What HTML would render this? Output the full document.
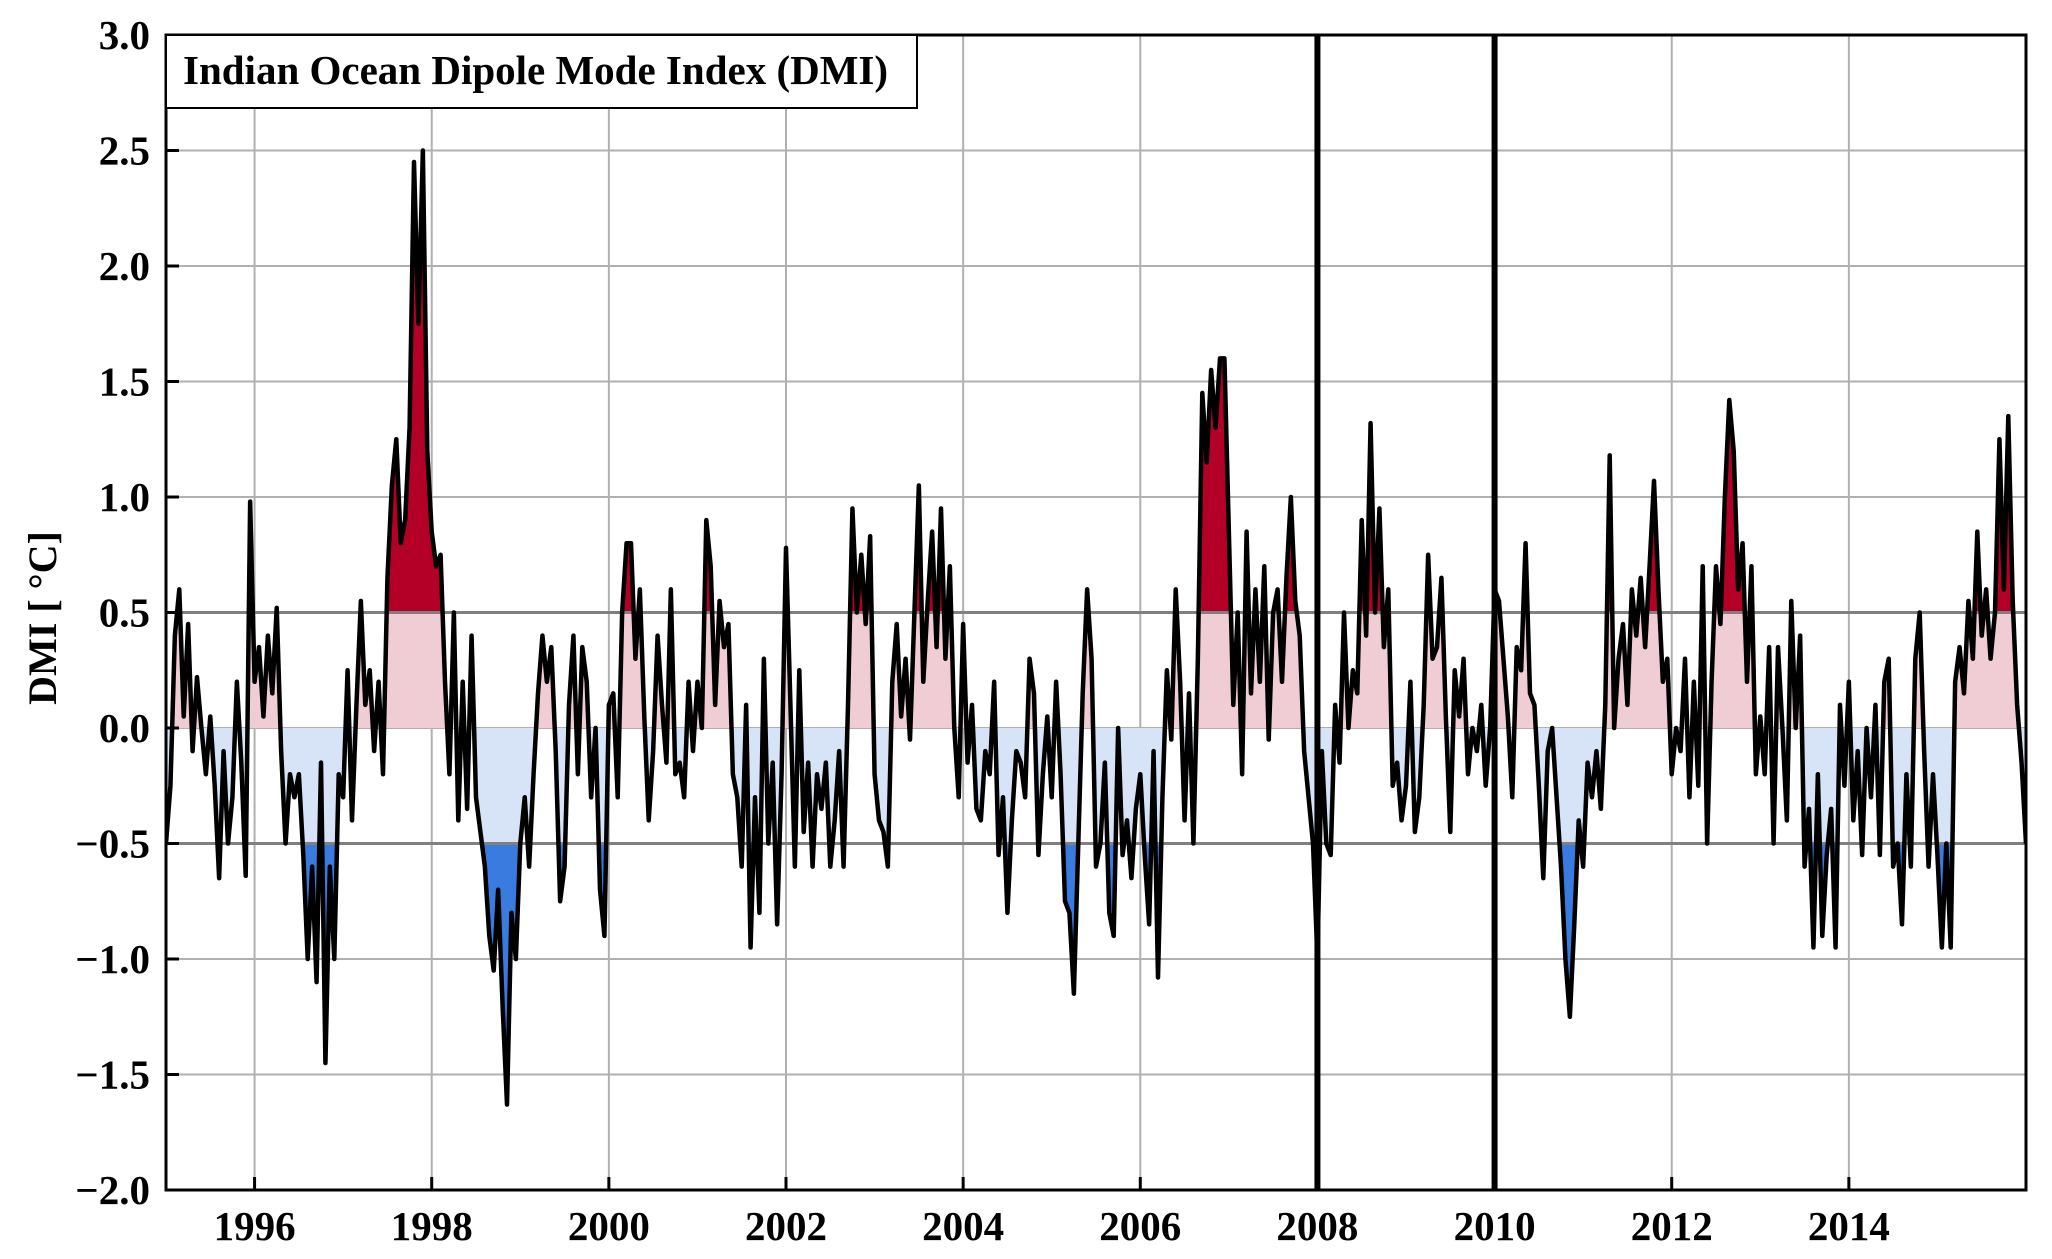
<!DOCTYPE html>
<html><head><meta charset="utf-8">
<style>
html,body{margin:0;padding:0;background:#fff;}
svg{display:block;font-family:"Liberation Serif",serif;font-weight:bold;}
</style></head>
<body>
<svg id="chart" width="2052" height="1259" viewBox="0 0 2052 1259" xmlns="http://www.w3.org/2000/svg">
<defs>
<clipPath id="cRed"><rect id="rRed"/></clipPath>
<clipPath id="cPink"><rect id="rPink"/></clipPath>
<clipPath id="cLBlue"><rect id="rLBlue"/></clipPath>
<clipPath id="cBlue"><rect id="rBlue"/></clipPath>
<clipPath id="cPlot"><rect id="rPlot"/></clipPath>
</defs>
<g id="grid"></g>
<g id="fills"></g>
<g id="refs"></g>
<g id="series"></g>
<g id="axes"></g>
</svg>
<script>
const startYear = 1995.0;
const stepYear = 0.05;
const dmiValues = [
-0.5,-0.25,0.4,0.6,0.05,0.45,-0.1,0.22,0.0,-0.2,0.05,-0.25,-0.65,-0.1,-0.5,-0.3,0.2,-0.15,-0.64,0.98,
0.2,0.35,0.05,0.4,0.15,0.52,-0.1,-0.5,-0.2,-0.3,-0.2,-0.55,-1.0,-0.6,-1.1,-0.15,-1.45,-0.6,-1.0,-0.2,
-0.3,0.25,-0.4,0.1,0.55,0.1,0.25,-0.1,0.2,-0.2,0.65,1.05,1.25,0.8,0.9,1.3,2.45,1.75,2.5,1.2,
0.85,0.7,0.75,0.2,-0.2,0.5,-0.4,0.2,-0.35,0.4,-0.3,-0.45,-0.6,-0.9,-1.05,-0.7,-1.2,-1.63,-0.8,-1.0,
-0.5,-0.3,-0.6,-0.2,0.15,0.4,0.2,0.35,-0.1,-0.75,-0.6,0.1,0.4,-0.2,0.35,0.2,-0.3,0.0,-0.7,-0.9,
0.1,0.15,-0.3,0.5,0.8,0.8,0.3,0.6,0.05,-0.4,-0.1,0.4,0.1,-0.15,0.6,-0.2,-0.15,-0.3,0.2,-0.1,
0.2,0.0,0.9,0.7,0.1,0.55,0.35,0.45,-0.2,-0.3,-0.6,0.1,-0.95,-0.3,-0.8,0.3,-0.5,-0.15,-0.85,-0.2,
0.78,0.1,-0.6,0.25,-0.45,-0.15,-0.6,-0.2,-0.35,-0.15,-0.6,-0.4,-0.1,-0.6,0.1,0.95,0.5,0.75,0.45,0.83,
-0.2,-0.4,-0.45,-0.6,0.2,0.45,0.05,0.3,-0.05,0.5,1.05,0.2,0.55,0.85,0.35,0.95,0.3,0.7,0.0,-0.3,
0.45,-0.15,0.1,-0.35,-0.4,-0.1,-0.2,0.2,-0.55,-0.3,-0.8,-0.4,-0.1,-0.15,-0.3,0.3,0.15,-0.55,-0.2,0.05,
-0.3,0.2,-0.2,-0.75,-0.8,-1.15,-0.5,0.15,0.6,0.3,-0.6,-0.5,-0.15,-0.8,-0.9,0.0,-0.55,-0.4,-0.65,-0.35,
-0.2,-0.55,-0.85,-0.1,-1.08,-0.3,0.25,-0.05,0.6,0.2,-0.4,0.15,-0.5,0.3,1.45,1.15,1.55,1.3,1.6,1.6,
0.85,0.1,0.5,-0.2,0.85,0.15,0.6,0.2,0.7,-0.05,0.5,0.6,0.2,0.65,1.0,0.55,0.4,-0.1,-0.3,-0.5,
-1.0,-0.1,-0.5,-0.55,0.1,-0.15,0.5,0.0,0.25,0.15,0.9,0.4,1.32,0.5,0.95,0.35,0.6,-0.25,-0.15,-0.4,
-0.25,0.2,-0.45,-0.3,0.1,0.75,0.3,0.35,0.65,0.05,-0.45,0.25,0.05,0.3,-0.2,0.0,-0.1,0.1,-0.25,0.0,
0.6,0.55,0.3,0.05,-0.3,0.35,0.25,0.8,0.15,0.1,-0.25,-0.65,-0.1,0.0,-0.3,-0.6,-1.0,-1.25,-0.85,-0.4,
-0.6,-0.15,-0.3,-0.1,-0.35,0.1,1.18,0.0,0.3,0.45,0.1,0.6,0.4,0.65,0.35,0.7,1.07,0.6,0.2,0.3,
-0.2,0.0,-0.1,0.3,-0.3,0.2,-0.25,0.7,-0.5,0.2,0.7,0.45,1.0,1.42,1.2,0.6,0.8,0.2,0.7,-0.2,
0.05,-0.2,0.35,-0.5,0.35,0.0,-0.4,0.55,0.0,0.4,-0.6,-0.35,-0.95,-0.2,-0.9,-0.55,-0.35,-0.95,0.1,-0.25,
0.2,-0.4,-0.1,-0.55,0.0,-0.3,0.1,-0.55,0.2,0.3,-0.6,-0.5,-0.85,-0.2,-0.6,0.3,0.5,-0.1,-0.6,-0.2,
-0.55,-0.95,-0.5,-0.95,0.2,0.35,0.15,0.55,0.3,0.85,0.4,0.6,0.3,0.5,1.25,0.6,1.35,0.55,0.1,-0.15,
-0.5
];
const xTickYears = [1996,1998,2000,2002,2004,2006,2008,2010,2012,2014];
const xTickLabels = ["1996","1998","2000","2002","2004","2006","2008","2010","2012","2014"];
const yTickValues = [3.0,2.5,2.0,1.5,1.0,0.5,0.0,-0.5,-1.0,-1.5,-2.0];
const yTickLabels = ["3.0","2.5","2.0","1.5","1.0","0.5","0.0","\u22120.5","\u22121.0","\u22121.5","\u22122.0"];
const markerYears = [2008,2010];
const thresholds = [0.5,-0.5];
const titleText = "Indian Ocean Dipole Mode Index (DMI)";
const yAxisTitle = "DMI [ \u00b0C]";

const L=166,R=2026,T=35,B=1190;
const X0=1995,X1=2016,Y0=-2,Y1=3;
const xs = v => L + (v-X0)/(X1-X0)*(R-L);
const ys = v => B - (v-Y0)/(Y1-Y0)*(B-T);
const NS="http://www.w3.org/2000/svg";
function mk(tag, parent, attrs){const e=document.createElementNS(NS,tag);for(const k in attrs)e.setAttribute(k,attrs[k]);parent.appendChild(e);return e;}
function setRect(id,x,y,w,h){const r=document.getElementById(id);r.setAttribute('x',x);r.setAttribute('y',y);r.setAttribute('width',w);r.setAttribute('height',h);}
setRect('rPlot',L,T,R-L,B-T);
setRect('rRed',L,T,R-L,ys(0.5)-T);
setRect('rPink',L,ys(0.5),R-L,ys(0)-ys(0.5));
setRect('rLBlue',L,ys(0),R-L,ys(-0.5)-ys(0));
setRect('rBlue',L,ys(-0.5),R-L,B-ys(-0.5));

const grid=document.getElementById('grid');
xTickYears.forEach(yr=>{
  const g=mk('line',grid,{x1:xs(yr),x2:xs(yr),y1:T,y2:B,stroke:'#b0b0b0','stroke-width':2});
  
  
});
yTickValues.forEach(v=>{
  const g=mk('line',grid,{x1:L,x2:R,y1:ys(v),y2:ys(v),stroke:'#b0b0b0','stroke-width':2});
  
  
});

const pts=dmiValues.map((v,i)=>[xs(startYear+i*stepYear),ys(v)]);
const y0=ys(0);
let d='M'+pts[0][0]+','+y0;
pts.forEach(p=>{d+=' L'+p[0].toFixed(2)+','+p[1].toFixed(2);});
d+=' L'+pts[pts.length-1][0]+','+y0+' Z';
const fills=document.getElementById('fills');
[['cRed','#b40026','positive-strong-fill'],['cPink','#f0cdd4','positive-fill'],['cLBlue','#d7e3f6','negative-fill'],['cBlue','#3a7be0','negative-strong-fill']].forEach(c=>{
  const p=mk('path',fills,{d:d,fill:c[1],'clip-path':'url(#'+c[0]+')'});
  
  
});

const refs=document.getElementById('refs');
thresholds.forEach(t=>{
  const l=mk('line',refs,{x1:L,x2:R,y1:ys(t),y2:ys(t),stroke:'#808080','stroke-width':3});
  
  
});

const series=document.getElementById('series');
const line=mk('polyline',series,{points:pts.map(p=>p[0].toFixed(2)+','+p[1].toFixed(2)).join(' '),fill:'none',stroke:'#000','stroke-width':4.5,'stroke-linejoin':'round','clip-path':'url(#cPlot)'});


markerYears.forEach(yr=>{
  const m=mk('line',series,{x1:xs(yr),x2:xs(yr),y1:T,y2:B,stroke:'#000','stroke-width':6});
  
  
});

const axes=document.getElementById('axes');
const frame=mk('rect',axes,{x:L,y:T,width:R-L,height:B-T,fill:'none',stroke:'#000','stroke-width':3});


xTickYears.forEach((yr,i)=>{
  mk('line',axes,{x1:xs(yr),x2:xs(yr),y1:B,y2:B-13,stroke:'#000','stroke-width':3});
  const t=mk('text',axes,{x:xs(yr),y:1240,'text-anchor':'middle','font-size':41});
  t.textContent=xTickLabels[i];
  
  
});
yTickValues.forEach((v,i)=>{
  mk('line',axes,{x1:L,x2:L+13,y1:ys(v),y2:ys(v),stroke:'#000','stroke-width':3});
  const t=mk('text',axes,{x:150,y:ys(v)+14,'text-anchor':'end','font-size':41});
  t.textContent=yTickLabels[i];
  
  
});
const yt=mk('text',axes,{x:0,y:0,'text-anchor':'middle','font-size':40,transform:'translate(56,618) rotate(-90)'});
yt.textContent=yAxisTitle;



const tb=mk('rect',axes,{x:L,y:T,width:751,height:73,fill:'#fff',stroke:'#000','stroke-width':2});


const tt=mk('text',axes,{x:183,y:84,'font-size':41});
tt.textContent=titleText;


</script>
</body></html>
